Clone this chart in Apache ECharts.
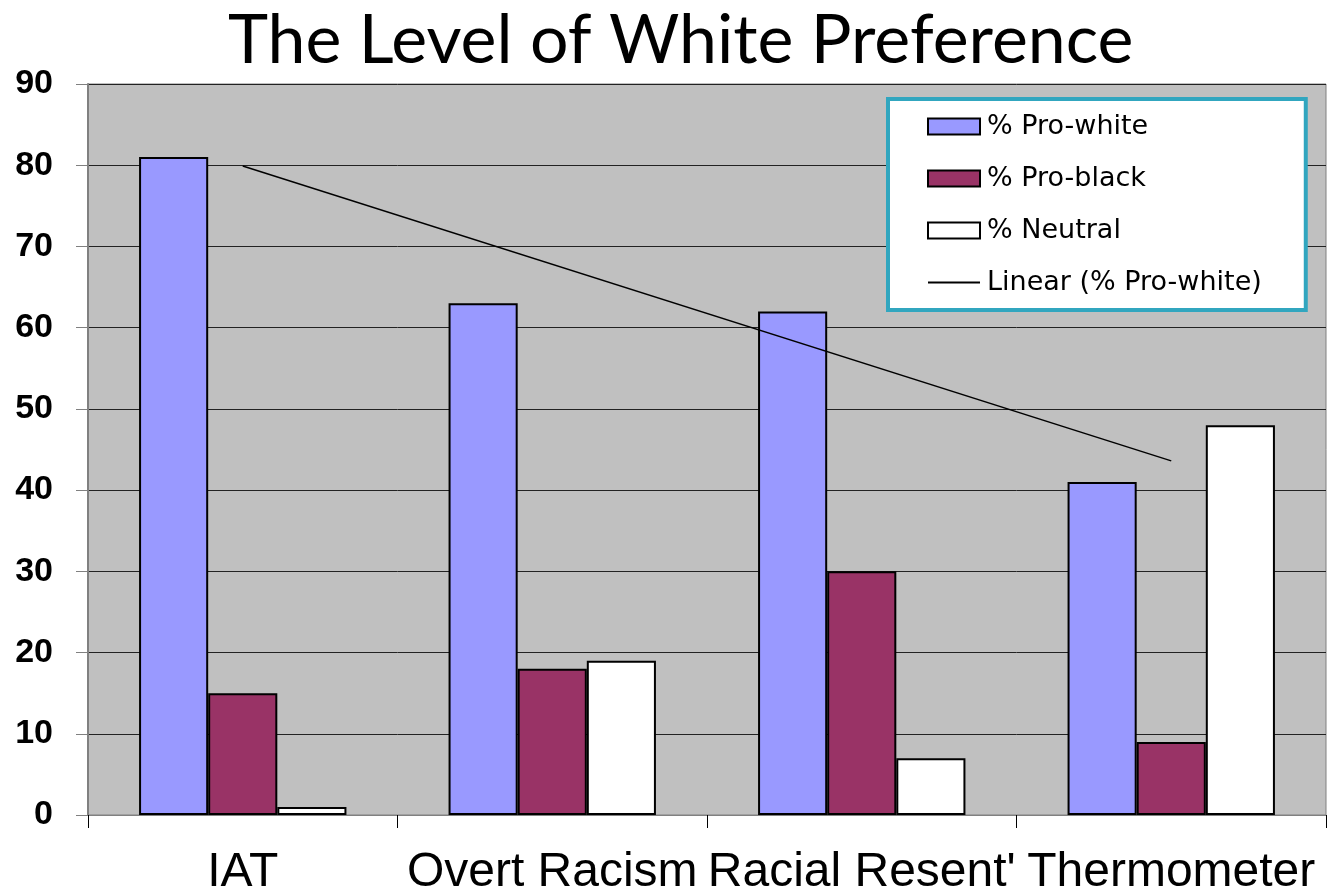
<!DOCTYPE html>
<html><head><meta charset="utf-8">
<script src="https://cdn.jsdelivr.net/npm/echarts@6/dist/echarts.min.js"></script>
<style>html,body{margin:0;padding:0;background:#fff}#c{width:1330px;height:891px}</style>
</head><body><div id="c"></div>
<script>
var categories = ["IAT", "Overt Racism", "Racial Resent'", "Thermometer"];
var proWhite = [81, 63, 62, 41];
var proBlack = [15, 18, 30, 9];
var neutral = [1, 19, 7, 48];
// Linear trendline of % Pro-white, endpoints
var trend = [79.9, null, null, 43.6];
var yTicks = [0, 10, 20, 30, 40, 50, 60, 70, 80, 90];

var chart = echarts.init(document.getElementById('c'));
var barBorder = {borderColor: '#000', borderWidth: 2};
chart.setOption({
  animation: false,
  title: {
    text: 'The Level of White Preference',
    left: 228, top: 7, padding: 0,
    textStyle: {fontFamily: 'Lato', fontWeight: 'normal', fontSize: 68, color: '#000'}
  },
  grid: {left: 88, right: 4, top: 84, bottom: 76, outerBoundsMode: 'none', containLabel: false,
    show: true, backgroundColor: '#C0C0C0', borderColor: '#808080', borderWidth: 1},
  legend: {
    orient: 'vertical', left: 888, top: 99,
    backgroundColor: '#fff', borderColor: '#31A6BF', borderWidth: 4, borderRadius: 0,
    padding: [14, 44, 14, 39],
    itemWidth: 52, itemHeight: 16, itemGap: 25,
    textStyle: {fontFamily: 'DejaVu Sans', fontSize: 27, color: '#000', padding: [0, 0, 0, 2]},
    data: [
      {name: '% Pro-white', icon: 'rect'},
      {name: '% Pro-black', icon: 'rect'},
      {name: '% Neutral', icon: 'rect'},
      {name: 'Linear (% Pro-white)', itemStyle: {opacity: 0}, lineStyle: {color: '#000', width: 2}}
    ]
  },
  xAxis: {
    type: 'category', data: categories,
    axisLine: {lineStyle: {color: '#808080', width: 1}},
    axisTick: {show: true, length: 13, lineStyle: {color: '#000'}},
    axisLabel: {fontFamily: 'Liberation Sans', fontSize: 48, color: '#000', margin: 34, interval: 0}
  },
  yAxis: {
    type: 'value', min: 0, max: 90, interval: 10,
    axisLine: {show: true, lineStyle: {color: '#808080', width: 2}},
    axisTick: {show: true, length: 12, lineStyle: {color: '#808080'}},
    axisLabel: {fontFamily: 'Liberation Sans', fontWeight: 'bold', fontSize: 34, color: '#000', margin: 35,
      formatter: function (v) { return yTicks.indexOf(v) >= 0 ? String(v) : ''; }},
    splitLine: {lineStyle: {color: '#222', width: 1}}
  },
  series: [
    {name: '% Pro-white', type: 'bar', data: proWhite, barGap: '0%', barCategoryGap: '33%',
      itemStyle: Object.assign({color: '#9999FF'}, barBorder)},
    {name: '% Pro-black', type: 'bar', data: proBlack, barGap: '0%', barCategoryGap: '33%',
      itemStyle: Object.assign({color: '#993366'}, barBorder)},
    {name: '% Neutral', type: 'bar', data: neutral, barGap: '0%', barCategoryGap: '33%',
      itemStyle: Object.assign({color: '#FFFFFF'}, barBorder)},
    {name: 'Linear (% Pro-white)', type: 'line', data: trend, connectNulls: true, showSymbol: false, symbol: 'none',
      lineStyle: {color: '#000', width: 1.5}, itemStyle: {color: '#000'}, z: 5}
  ]
});
</script></body></html>
